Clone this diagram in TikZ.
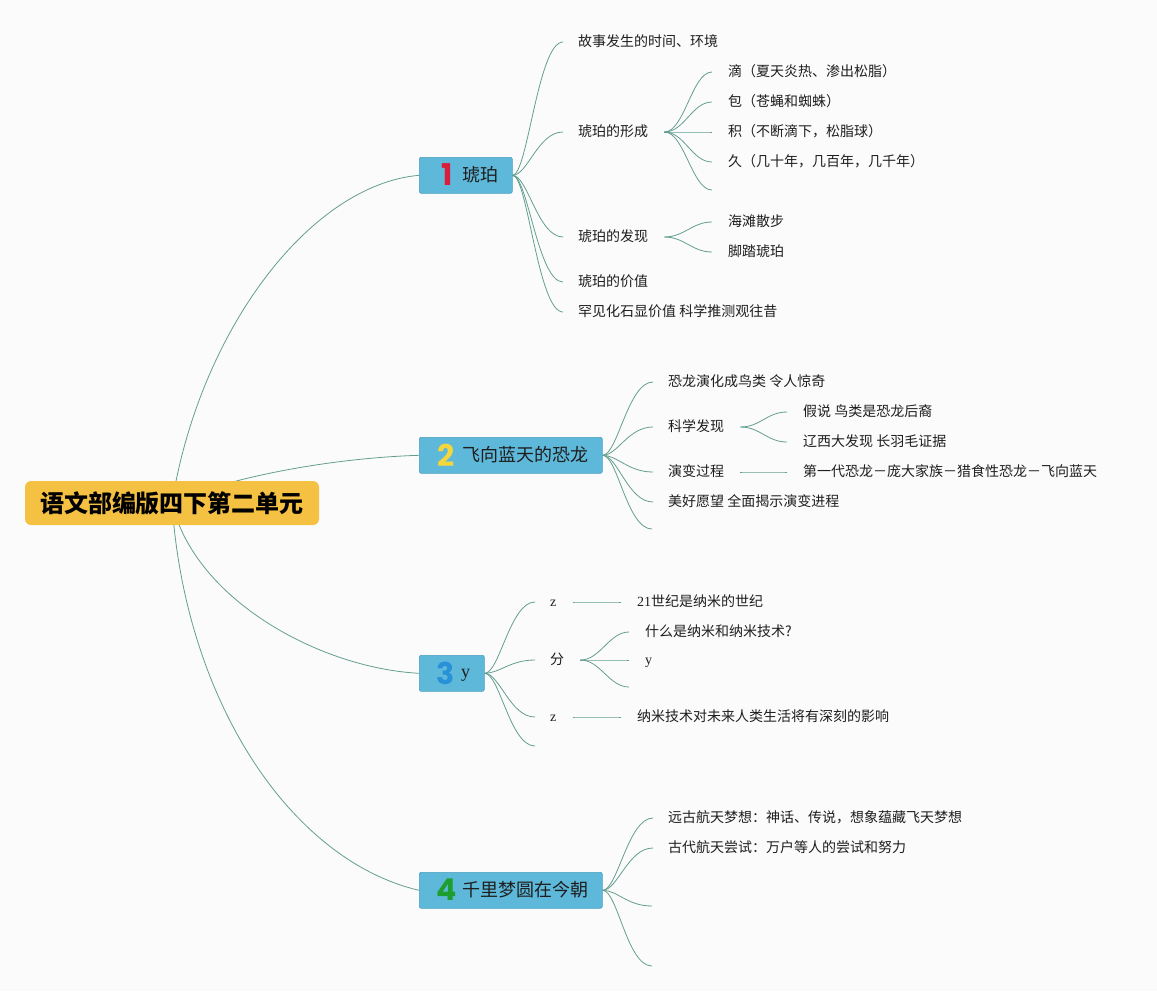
\documentclass[tikz,border=0pt]{standalone}
\usepackage{fontspec}
\setmainfont{Liberation Serif}
\newfontfamily\cjk{Noto Sans CJK SC}
\newfontfamily\numf{Poppins}
\usetikzlibrary{calc}
\definecolor{bgc}{RGB}{251,251,251}
\definecolor{linec}{RGB}{100,158,145}
\definecolor{rootc}{RGB}{245,193,66}
\definecolor{bluec}{RGB}{94,184,218}
\definecolor{blueb}{RGB}{72,158,190}
\definecolor{nA}{RGB}{216,30,58}
\definecolor{nB}{RGB}{245,215,60}
\definecolor{nC}{RGB}{40,145,215}
\definecolor{nD}{RGB}{30,158,46}
\definecolor{txt}{RGB}{30,30,30}
\pgfdeclarelayer{back}
\pgfdeclarelayer{bg}
\pgfsetlayers{back,bg,main}
\tikzset{
  rootbox/.style={fill=rootc, rounded corners=6pt, minimum width=294pt, minimum height=44pt, inner sep=0pt, text=black, font=\cjk\bfseries\fontsize{24}{28}\selectfont},
  topicbox/.style={fill=bluec, draw=blueb, line width=0.6pt, rounded corners=2pt, minimum height=36pt, inner sep=0pt, anchor=north west},
  toplbl/.style={font=\cjk\fontsize{18}{21}\selectfont, text=txt, anchor=west, inner sep=0pt},
  numlbl/.style={font=\numf\bfseries\fontsize{30}{30}\selectfont, inner sep=0pt},
  leaf/.style={font=\cjk\fontsize{14}{16}\selectfont, text=txt, anchor=west, inner sep=0pt, text height=11pt, text depth=3pt},
  latleaf/.style={leaf, font=\rmfamily\fontsize{14}{16}\selectfont},
  conn/.style={draw=linec, line width=0.8pt},
}
\newcommand\tk[2]{\draw[conn] (#1.east) .. controls +(15,0) and +(-25,0) .. ([xshift=-15pt]#2.west);}
\newcommand\tke[2]{\draw[conn] (#1.east) .. controls +(15,0) and +(-25,0) .. (#2);}
\newcommand\lk[2]{\draw[conn] ([xshift=16pt]#1.east) .. controls +(20,0) and +(-20,0) .. ([xshift=-16pt]#2.west);}
\newcommand\lke[2]{\draw[conn] ([xshift=16pt]#1.east) .. controls +(20,0) and +(-20,0) .. (#2);}
\begin{document}
\begin{tikzpicture}[x=1pt,y=-1pt]
\begin{pgfonlayer}{back}
\fill[bgc] (0,0) rectangle (1157,991);
\end{pgfonlayer}
\useasboundingbox (0,0) rectangle (1157,991);

% root
\node[rootbox] (r) at (172,503) {语文部编版四下第二单元};

% topics
\node[topicbox, minimum width=93pt] (t1) at (419,157) {};
\node[numlbl, text=nA] (t1n) at (447,175) {1};
\node[toplbl] (t1l) at (462,175) {琥珀};

\node[topicbox, minimum width=183pt] (t2) at (419,437) {};
\node[numlbl, text=nB] (t2n) at (446,455) {2};
\node[toplbl] (t2l) at (462,455) {飞向蓝天的恐龙};

\node[topicbox, minimum width=65pt] (t3) at (419,655) {};
\node[numlbl, text=nC] (t3n) at (446,673) {3};
\node[toplbl, font=\rmfamily\fontsize{18}{21}\selectfont] (t3l) at (461,675) {y};

\node[topicbox, minimum width=183pt] (t4) at (419,872) {};
\node[numlbl, text=nD] (t4n) at (447,890) {4};
\node[toplbl] (t4l) at (462,890) {千里梦圆在今朝};

% topic 1 children
\node[leaf] (c11) at (578,42) {故事发生的时间、环境};
\node[leaf] (c12) at (578,132) {琥珀的形成};
\node[leaf] (c121) at (728,72) {滴（夏天炎热、渗出松脂）};
\node[leaf] (c122) at (728,102) {包（苍蝇和蜘蛛）};
\node[leaf] (c123) at (728,132) {积（不断滴下，松脂球）};
\node[leaf] (c124) at (728,162) {久（几十年，几百年，几千年）};
\coordinate (e125) at (712,190);
\node[leaf] (c13) at (578,237) {琥珀的发现};
\node[leaf] (c131) at (728,222) {海滩散步};
\node[leaf] (c132) at (728,252) {脚踏琥珀};
\node[leaf] (c14) at (578,282) {琥珀的价值};
\node[leaf] (c15) at (578,312) {罕见化石显价值 科学推测观往昔};

% topic 2 children
\node[leaf] (c21) at (668,382) {恐龙演化成鸟类 令人惊奇};
\node[leaf] (c22) at (668,427) {科学发现};
\node[leaf] (c221) at (803,412) {假说 鸟类是恐龙后裔};
\node[leaf] (c222) at (803,442) {辽西大发现 长羽毛证据};
\node[leaf] (c23) at (668,472) {演变过程};
\node[leaf] (c231) at (803,472) {第一代恐龙－庞大家族－猎食性恐龙－飞向蓝天};
\node[leaf] (c24) at (668,502) {美好愿望 全面揭示演变进程};
\coordinate (e25) at (652,529);

% topic 3 children
\node[latleaf] (c31) at (550,602) {z};
\node[leaf] (c311) at (637,602) {{\rmfamily 21}世纪是纳米的世纪};
\node[leaf] (c32) at (550,660) {分};
\node[leaf] (c321) at (645,632) {什么是纳米和纳米技术?};
\node[latleaf] (c322) at (645,660) {y};
\coordinate (e323) at (629,687);
\node[latleaf] (c33) at (550,717) {z};
\node[leaf] (c331) at (637,717) {纳米技术对未来人类生活将有深刻的影响};
\coordinate (e34) at (535,746);

% topic 4 children
\node[leaf] (c41) at (668,818) {远古航天梦想：神话、传说，想象蕴藏飞天梦想};
\node[leaf] (c42) at (668,848) {古代航天尝试：万户等人的尝试和努力};
\coordinate (e43) at (652,906);
\coordinate (e44) at (652,966);

\begin{pgfonlayer}{bg}
% root connectors
\draw[conn] (r.center) .. controls (200,330) and (310,185) .. (t1.west);
\draw[conn] (r.center) .. controls (225,478) and (330,458) .. (t2.west);
\draw[conn] (r.center) .. controls (195,600) and (320,668) .. (t3.west);
\draw[conn] (r.center) .. controls (185,700) and (290,860) .. (t4.west);
% topic 1
\tk{t1}{c11} \tk{t1}{c12} \tk{t1}{c13} \tk{t1}{c14} \tk{t1}{c15}
\lk{c12}{c121} \lk{c12}{c122} \lk{c12}{c123} \lk{c12}{c124} \lke{c12}{e125}
\lk{c13}{c131} \lk{c13}{c132}
% topic 2
\tk{t2}{c21} \tk{t2}{c22} \tk{t2}{c23} \tk{t2}{c24} \tke{t2}{e25}
\lk{c22}{c221} \lk{c22}{c222}
\lk{c23}{c231}
% topic 3
\tk{t3}{c31} \tk{t3}{c32} \tk{t3}{c33} \tke{t3}{e34}
\lk{c31}{c311}
\lk{c32}{c321} \lk{c32}{c322} \lke{c32}{e323}
\lk{c33}{c331}
% topic 4
\tk{t4}{c41} \tk{t4}{c42} \tke{t4}{e43} \tke{t4}{e44}
\end{pgfonlayer}
\end{tikzpicture}
\end{document}
